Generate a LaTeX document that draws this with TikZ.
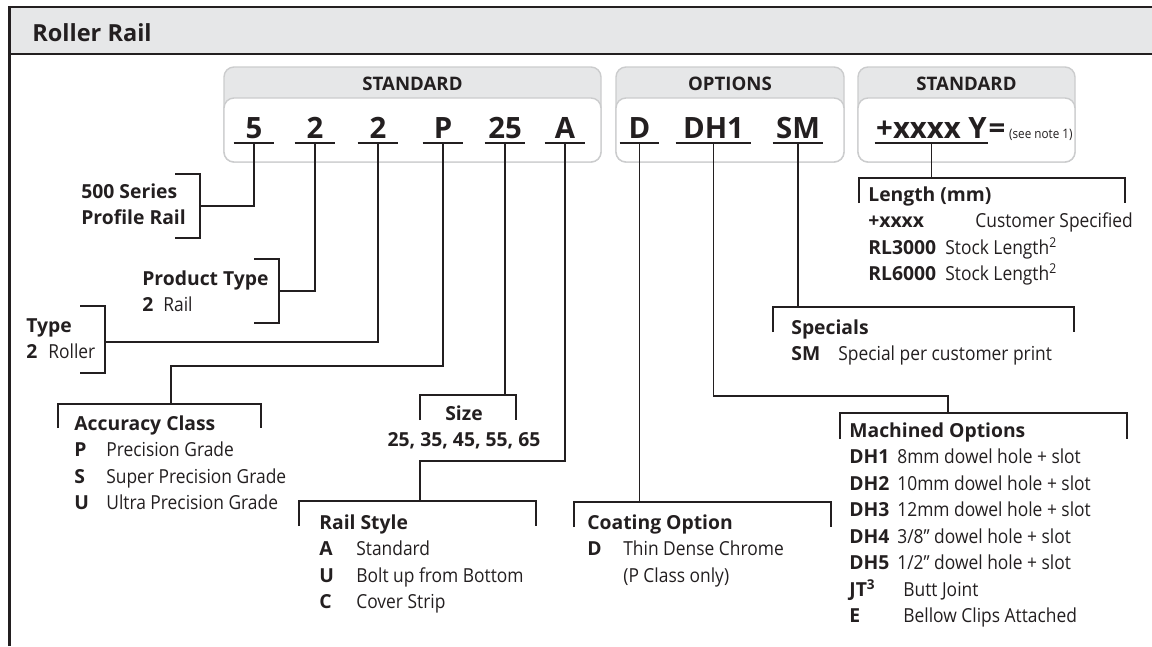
\documentclass[tikz,border=0pt]{standalone}
\usepackage{fontspec}
\setmainfont{Open Sans}[UprightFeatures={FakeStretch=0.9}]
\newfontfamily\codefont{Open Sans}

\newlength{\pxl}\setlength{\pxl}{0.02cm}
\definecolor{ink}{HTML}{231F20}
\definecolor{bandgray}{HTML}{E6E7E8}
\definecolor{boxline}{HTML}{CBCCCD}

% one block of text, first line on the node's base line
\newcommand{\infoblock}[1]{\begin{tabular}[t]{@{}l@{}}#1\end{tabular}}
\newcommand{\keycol}[2]{\makebox[#1\pxl][l]{\textbf{#2}}}

\tikzset{
  codetext/.style={font=\codefont\bfseries\fontsize{16.7}{20}\selectfont, inner sep=0pt},
  codechar/.style={codetext, anchor=south, inner ysep=2.27pt, text depth=0pt, minimum width=#1\pxl},
  codechar/.default=40,
  infotext/.style={anchor=base west, inner sep=0pt, font=\fontsize{11}{15.1}\selectfont},
  boxhead/.style={anchor=base, inner sep=0pt, font=\bfseries\fontsize{10.6}{13}\selectfont},
  bracket/.style={draw=ink, line width=0.6pt},
  wire/.style={draw=ink, line width=0.6pt},
  uline/.style={draw=ink, line width=1.1pt},
  codebox/.style={fill=bandgray, draw=boxline, line width=0.8pt, rounded corners=2mm}
}

\begin{document}
\begin{tikzpicture}[x=0.02cm, y=-0.02cm, color=ink]
  \useasboundingbox (0,0) rectangle (1152,646);

  % title band and frame
  \fill[bandgray] (10,7) rectangle (1152,54);
  \draw[line width=0.9pt] (10,54) -- (1152,54);
  \draw[line width=1.4pt] (9.5,646) -- (9.5,7) -- (1152,7);
  \node[anchor=base west, inner sep=0pt, font=\bfseries\fontsize{13.4}{16}\selectfont] (title) at (32,41) {Roller Rail};

  % the three code boxes
  \foreach \xa/\xb in {224/601, 616/844, 858/1075} {
    \path[codebox] (\xa,67) rectangle (\xb,162);
    \path[codebox, fill=white] (\xa,98) rectangle (\xb,162);
  }
  \node[boxhead] (head1) at (412.5,90) {STANDARD};
  \node[boxhead] (head2) at (730,90) {OPTIONS};
  \node[boxhead] (head3) at (966.5,90) {STANDARD};

  % part number characters
  \node[codechar] (c5) at (254,143) {5};
  \node[codechar] (c2p) at (315,143) {2};
  \node[codechar] (c2t) at (378,143) {2};
  \node[codechar] (cP) at (443,143) {P};
  \node[codechar] (c25) at (505,143) {25};
  \node[codechar] (cA) at (565,143) {A};
  \node[codechar=39] (cD) at (639.5,143) {D};
  \node[codechar=75] (cDH) at (713.5,143) {DH1};
  \node[codechar=50] (cSM) at (798,143) {SM};
  \node[codechar=113] (cLen) at (931.5,143) {+xxxx Y};
  \node[codetext, anchor=base west] (eq) at (cLen.base east) {=};
  \node[anchor=base west, inner sep=0pt, font=\fontsize{7.4}{9}\selectfont] (note) at ([xshift=3\pxl]eq.base east) {(see note 1)};
  \foreach \c in {c5,c2p,c2t,cP,c25,cA,cD,cDH,cSM,cLen}
    \draw[uline] (\c.south west) -- (\c.south east);

  % brackets round the descriptions
  \draw[bracket] (175,174) -| (200,238) -- (175,238);
  \draw[bracket] (254,259) -| (279,323) -- (254,323);
  \draw[bracket] (80,306) -| (105,373) -- (80,373);
  \draw[bracket] (58,428) |- (261,404) -- (261,428);
  \draw[bracket] (420,420) |- (516,395) -- (516,420);
  \draw[bracket] (299,526) |- (536,501) -- (536,526);
  \draw[bracket] (574,527) |- (831,502) -- (831,527);
  \draw[bracket] (840,439) |- (1127,413) -- (1127,439);
  \draw[bracket] (773,332) |- (1074,307) -- (1074,332);
  \draw[bracket] (859,203) |- (1125,178) -- (1125,203);

  \coordinate (bseries) at (200,206);
  \coordinate (bprod) at (279,291);
  \coordinate (btype) at (105,342);
  \coordinate (bacc) at (171,404);
  \coordinate (bsize) at (505,395);
  \coordinate (brail) at (420,501);
  \coordinate (bcoat) at (639.5,502);
  \coordinate (bmach) at (948,413);
  \coordinate (bspec) at (798,307);
  \coordinate (blen) at (931.5,178);

  % connectors
  \draw[wire] (c5.south) |- (bseries);
  \draw[wire] (c2p.south) |- (bprod);
  \draw[wire] (c2t.south) |- (btype);
  \draw[wire] (cP.south) -- ++(0,223) -| (bacc);
  \draw[wire] (c25.south) -- (c25.south |- bsize);
  \draw[wire] (cA.south) -- ++(0,318) -| (brail);
  \draw[wire] (cD.south) -- (cD.south |- bcoat);
  \draw[wire] (cDH.south) -- ++(0,253) -| (bmach);
  \draw[wire] (cSM.south) -- (cSM.south |- bspec);
  \draw[wire] (cLen.south) -- (cLen.south |- blen);

  % descriptions
  \node[infotext] (series) at (81,198) {\infoblock{\textbf{500 Series}\\\textbf{Profile Rail}}};
  \node[infotext] (prodtype) at (142,285) {\infoblock{\textbf{Product Type}\\\keycol{21}{2}Rail}};
  \node[infotext] (type) at (26,332) {\infoblock{\textbf{Type}\\\keycol{22}{2}Roller}};
  \node[infotext] (accuracy) at (74,430) {\infoblock{\textbf{Accuracy Class}\\
    \keycol{32}{P}Precision Grade\\
    \keycol{32}{S}Super Precision Grade\\
    \keycol{32}{U}Ultra Precision Grade}};
  \node[infotext, anchor=base] (size) at (464,420) {\begin{tabular}[t]{@{}c@{}}\textbf{Size}\\\textbf{25, 35, 45, 55, 65}\end{tabular}};
  \node[infotext] (railstyle) at (319,529) {\infoblock{\textbf{Rail Style}\\
    \keycol{37}{A}Standard\\
    \keycol{37}{U}Bolt up from Bottom\\
    \keycol{37}{C}Cover Strip}};
  \node[infotext] (coating) at (587,529) {\infoblock{\textbf{Coating Option}\\
    \keycol{36}{D}Thin Dense Chrome\\
    \hspace*{36\pxl}(P Class only)}};
  \node[infotext] (machined) at (849,437) {\infoblock{\textbf{Machined Options}\\
    \keycol{48}{DH1}8mm dowel hole + slot\\
    \keycol{48}{DH2}10mm dowel hole + slot\\
    \keycol{48}{DH3}12mm dowel hole + slot\\
    \keycol{48}{DH4}3/8” dowel hole + slot\\
    \keycol{48}{DH5}1/2” dowel hole + slot\\
    \keycol{54}{JT\textsuperscript{3}}Butt Joint\\
    \keycol{54}{E}Bellow Clips Attached}};
  \node[infotext] (length) at (868,201) {\infoblock{\textbf{Length (mm)}\\
    \keycol{107}{+xxxx}Customer Specified\\
    \keycol{77}{RL3000}Stock Length\textsuperscript{2}\\
    \keycol{77}{RL6000}Stock Length\textsuperscript{2}}};
  \node[infotext] (specials) at (791,334) {\infoblock{\textbf{Specials}\\
    \keycol{47}{SM}Special per customer print}};
\end{tikzpicture}
\end{document}
